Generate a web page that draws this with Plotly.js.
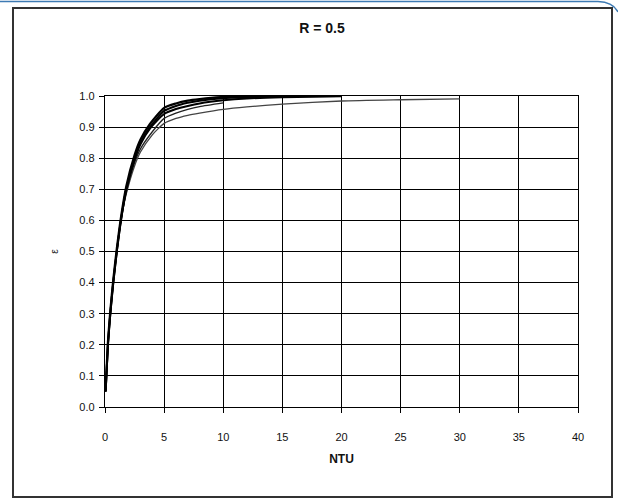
<!DOCTYPE html>
<html>
<head>
<meta charset="utf-8">
<script src="https://cdn.plot.ly/plotly-3.0.1.min.js"></script>
<style>
html,body{margin:0;padding:0;background:#fff;}
#chart{width:618px;height:499px;}
</style>
</head>
<body>
<div id="chart"></div>
<script>
// NTU values and effectiveness (R = 0.5)
const ntuA = [0.05, 0.25, 0.45, 0.7, 1.0, 1.35, 1.8, 2.5, 3.0, 3.8, 5, 6, 7, 8, 10, 12, 15, 20];
const epsA = [0.05, 0.21, 0.31, 0.41, 0.51, 0.61, 0.71, 0.81, 0.86, 0.91, 0.962, 0.976, 0.985, 0.99, 0.997, 0.999, 1.0, 1.0];

const ntuB = [0.05, 0.25, 0.45, 0.7, 1.0, 1.35, 1.8, 2.5, 3.0, 3.8, 5, 6, 7, 8, 10, 12, 15, 20];
const epsB = [0.05, 0.2, 0.3, 0.4, 0.5, 0.6, 0.7, 0.8, 0.85, 0.9, 0.952, 0.968, 0.978, 0.985, 0.993, 0.996, 0.999, 1.0];

const ntuC = [0.05, 0.25, 0.45, 0.7, 1.0, 1.35, 1.8, 2.5, 3.0, 3.8, 5, 6, 7, 8, 10, 12, 15, 20];
const epsC = [0.05, 0.2, 0.3, 0.4, 0.5, 0.6, 0.7, 0.795, 0.845, 0.895, 0.942, 0.958, 0.968, 0.976, 0.986, 0.992, 0.996, 0.999];

const ntuD = [0.05, 0.25, 0.45, 0.7, 1.0, 1.35, 1.8, 2.5, 3.0, 4.0, 5, 6, 7, 8, 10];
const epsD = [0.05, 0.2, 0.3, 0.4, 0.5, 0.6, 0.69, 0.785, 0.83, 0.885, 0.928, 0.945, 0.957, 0.966, 0.978];

const ntuE = [0.05, 0.25, 0.45, 0.7, 1.0, 1.35, 1.8, 2.5, 3.0, 4.0, 4.5, 5, 6, 7, 8, 10, 12, 15, 20, 25, 30];
const epsE = [0.05, 0.2, 0.3, 0.4, 0.5, 0.6, 0.685, 0.775, 0.82, 0.875, 0.895, 0.912, 0.928, 0.938, 0.945, 0.957, 0.965, 0.974, 0.984, 0.988, 0.991];

const xTicks = [0, 5, 10, 15, 20, 25, 30, 35, 40];
const yTicks = [0.0, 0.1, 0.2, 0.3, 0.4, 0.5, 0.6, 0.7, 0.8, 0.9, 1.0];

const traces = [
  {x: ntuE, y: epsE, mode: 'lines', line: {color: '#444', width: 1.3, shape: 'spline', smoothing: 0.6}},
  {x: ntuD, y: epsD, mode: 'lines', line: {color: '#222', width: 1.3, shape: 'spline', smoothing: 0.6}},
  {x: ntuC, y: epsC, mode: 'lines', line: {color: '#000', width: 2, shape: 'spline', smoothing: 0.6}},
  {x: ntuB, y: epsB, mode: 'lines', line: {color: '#000', width: 2, shape: 'spline', smoothing: 0.6}},
  {x: ntuA, y: epsA, mode: 'lines', line: {color: '#000', width: 2.2, shape: 'spline', smoothing: 0.6}}
];

const W = 618, H = 499;
const L = 105, R = 578, T = 96, B = 407;
const px = v => (v - L) / (R - L);
const py = v => (B - v) / (B - T);

const layout = {
  width: W, height: H,
  margin: {l: L, r: W - R, t: T, b: H - B},
  paper_bgcolor: '#fff', plot_bgcolor: '#fff',
  showlegend: false,
  font: {family: 'Liberation Sans, Arial, sans-serif', size: 11, color: '#111'},
  title: {
    text: '<b>R = 0.5</b>',
    font: {family: 'Liberation Sans, Arial, sans-serif', size: 14, color: '#111'},
    xref: 'container', yref: 'container',
    x: 322 / W, y: 1 - 28 / H, xanchor: 'center', yanchor: 'middle'
  },
  xaxis: {
    range: [0, 40], tickvals: xTicks, ticktext: xTicks.map(String),
    showgrid: true, gridcolor: '#000', gridwidth: 1.2,
    showline: true, linecolor: '#000', linewidth: 1.2, mirror: true,
    ticks: 'outside', ticklen: 5, tickcolor: '#000',
    ticklabelstandoff: 15,
    zeroline: false, fixedrange: true,
    title: {text: '<b>NTU</b>', font: {size: 12, color: '#111'}, standoff: 12}
  },
  yaxis: {
    range: [0, 1.0], tickvals: yTicks, ticktext: yTicks.map(v => v.toFixed(1)),
    showgrid: true, gridcolor: '#000', gridwidth: 1.2,
    showline: true, linecolor: '#000', linewidth: 1.2, mirror: true,
    ticks: 'outside', ticklen: 5, tickcolor: '#000',
    ticklabelstandoff: 2,
    zeroline: false, fixedrange: true,
    title: {text: 'ε', font: {size: 10, color: '#222'}, standoff: 18}
  },
  shapes: [
    {type: 'rect', xref: 'paper', yref: 'paper',
     x0: px(13), x1: px(612), y0: py(497), y1: py(8),
     line: {color: '#333', width: 2}, fillcolor: 'rgba(0,0,0,0)', layer: 'below'},
    {type: 'path', xref: 'paper', yref: 'paper',
     path: 'M ' + px(0) + ' ' + py(1.5) + ' L ' + px(598) + ' ' + py(1.5) +
           ' Q ' + px(613) + ' ' + py(2) + ' ' + px(618) + ' ' + py(12),
     line: {color: '#3d7ab3', width: 1.5}}
  ]
};

Plotly.newPlot('chart', traces, layout, {displayModeBar: false, staticPlot: true});
</script>
</body>
</html>
